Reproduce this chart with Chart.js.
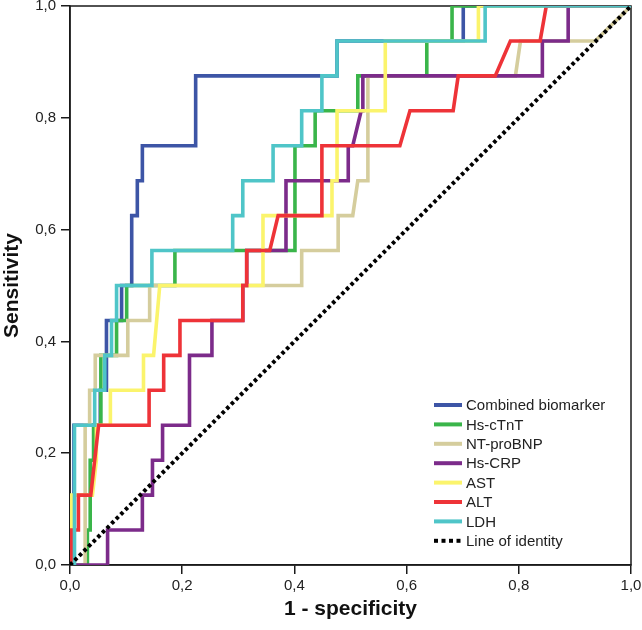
<!DOCTYPE html>
<html>
<head>
<meta charset="utf-8">
<script src="https://cdn.jsdelivr.net/npm/chart.js@4/dist/chart.umd.min.js"></script>
<style>
  html, body { margin: 0; padding: 0; background: #fff; }
</style>
</head>
<body>
<canvas id="roc" width="642" height="630"></canvas>
<script>
// ROC curves (1 - specificity vs sensitivity)
const combinedFpr = [0, 0.007, 0.007, 0.054, 0.054, 0.065, 0.065, 0.092, 0.092, 0.11, 0.11, 0.12, 0.12, 0.129, 0.129, 0.224, 0.224, 0.476, 0.476, 0.701, 0.701, 1];
const combinedTpr = [0, 0, 0.25, 0.25, 0.3125, 0.3125, 0.4375, 0.4375, 0.5, 0.5, 0.625, 0.625, 0.6875, 0.6875, 0.75, 0.75, 0.875, 0.875, 0.9375, 0.9375, 1, 1];

const tntFpr = [0, 0.031, 0.031, 0.036, 0.036, 0.042, 0.042, 0.055, 0.055, 0.083, 0.083, 0.101, 0.101, 0.187, 0.187, 0.401, 0.401, 0.437, 0.437, 0.513, 0.513, 0.636, 0.636, 0.681, 0.681, 1];
const tntTpr = [0, 0, 0.0625, 0.0625, 0.1875, 0.1875, 0.25, 0.25, 0.375, 0.375, 0.4375, 0.4375, 0.5, 0.5, 0.5625, 0.5625, 0.75, 0.75, 0.8125, 0.8125, 0.875, 0.875, 0.9375, 0.9375, 1, 1];

const bnpFpr = [0, 0.027, 0.027, 0.035, 0.035, 0.045, 0.045, 0.103, 0.103, 0.142, 0.142, 0.413, 0.413, 0.478, 0.478, 0.504, 0.513, 0.531, 0.531, 0.794, 0.803, 0.936, 1];
const bnpTpr = [0, 0, 0.25, 0.25, 0.3125, 0.3125, 0.375, 0.375, 0.4375, 0.4375, 0.5, 0.5, 0.5625, 0.5625, 0.625, 0.625, 0.6875, 0.6875, 0.875, 0.875, 0.9375, 0.9375, 1];

const crpFpr = [0, 0.067, 0.067, 0.129, 0.129, 0.147, 0.147, 0.165, 0.165, 0.213, 0.213, 0.253, 0.253, 0.308, 0.308, 0.315, 0.315, 0.385, 0.385, 0.496, 0.496, 0.504, 0.519, 0.522, 0.522, 0.842, 0.842, 0.888, 0.888, 1];
const crpTpr = [0, 0, 0.0625, 0.0625, 0.125, 0.125, 0.1875, 0.1875, 0.25, 0.25, 0.375, 0.375, 0.4375, 0.4375, 0.5, 0.5, 0.5625, 0.5625, 0.6875, 0.6875, 0.75, 0.75, 0.8125, 0.8125, 0.875, 0.875, 0.9375, 0.9375, 1, 1];

const astFpr = [0, 0.003, 0.003, 0.04, 0.047, 0.047, 0.072, 0.072, 0.131, 0.131, 0.149, 0.16, 0.344, 0.344, 0.467, 0.467, 0.476, 0.476, 0.562, 0.562, 0.728, 0.728, 1];
const astTpr = [0, 0, 0.125, 0.125, 0.1875, 0.25, 0.25, 0.3125, 0.3125, 0.375, 0.375, 0.5, 0.5, 0.625, 0.625, 0.6875, 0.6875, 0.8125, 0.8125, 0.9375, 0.9375, 1, 1];

const altFpr = [0, 0.003, 0.003, 0.015, 0.015, 0.037, 0.051, 0.141, 0.141, 0.167, 0.167, 0.196, 0.196, 0.308, 0.308, 0.315, 0.315, 0.356, 0.371, 0.449, 0.449, 0.588, 0.606, 0.683, 0.692, 0.758, 0.785, 0.838, 0.849, 1];
const altTpr = [0, 0, 0.0625, 0.0625, 0.125, 0.125, 0.25, 0.25, 0.3125, 0.3125, 0.375, 0.375, 0.4375, 0.4375, 0.5, 0.5, 0.5625, 0.5625, 0.625, 0.625, 0.75, 0.75, 0.8125, 0.8125, 0.875, 0.875, 0.9375, 0.9375, 1, 1];

const ldhFpr = [0, 0.008, 0.008, 0.044, 0.044, 0.062, 0.062, 0.074, 0.074, 0.083, 0.083, 0.146, 0.146, 0.29, 0.29, 0.308, 0.308, 0.362, 0.362, 0.413, 0.413, 0.449, 0.449, 0.476, 0.476, 0.74, 0.74, 1];
const ldhTpr = [0, 0, 0.25, 0.25, 0.3125, 0.3125, 0.375, 0.375, 0.4375, 0.4375, 0.5, 0.5, 0.5625, 0.5625, 0.625, 0.625, 0.6875, 0.6875, 0.75, 0.75, 0.8125, 0.8125, 0.875, 0.875, 0.9375, 0.9375, 1, 1];

const identityFpr = [0, 1];
const identityTpr = [0, 1];

const seriesNames = ['Combined biomarker', 'Hs-cTnT', 'NT-proBNP', 'Hs-CRP', 'AST', 'ALT', 'LDH', 'Line of identity'];
const axisTicks = [0, 0.2, 0.4, 0.6, 0.8, 1];

const FONT = '"Liberation Sans", Arial, Helvetica, sans-serif';
const fmt = (v) => v.toFixed(1).replace('.', ',');
const pts = (xs, ys) => xs.map((x, i) => ({x, y: ys[i]}));

const curves = [
  {fpr: combinedFpr, tpr: combinedTpr, color: '#3d55a6'},
  {fpr: tntFpr, tpr: tntTpr, color: '#3ab54a'},
  {fpr: bnpFpr, tpr: bnpTpr, color: '#d5cd9d'},
  {fpr: crpFpr, tpr: crpTpr, color: '#7c2b8a'},
  {fpr: astFpr, tpr: astTpr, color: '#fbf46c'},
  {fpr: altFpr, tpr: altTpr, color: '#ee3338'},
  {fpr: ldhFpr, tpr: ldhTpr, color: '#4fc5c8'},
];

// first dataset is drawn on top in chart.js, so order puts LDH above the rest
const datasets = curves.map((c, i) => ({
  label: seriesNames[i],
  data: pts(c.fpr, c.tpr),
  borderColor: c.color,
  borderWidth: 3.6,
  borderJoinStyle: 'miter',
  borderCapStyle: 'butt',
  pointRadius: 0,
  showLine: true,
  fill: false,
  order: curves.length - i,
}));
datasets.push({
  label: seriesNames[7],
  data: pts(identityFpr, identityTpr),
  borderColor: '#000',
  borderWidth: 4,
  borderDash: [3.5, 3],
  borderCapStyle: 'butt',
  pointRadius: 0,
  showLine: true,
  fill: false,
  order: 0,
});

// box round the plot (top + right edge too)
const frame = {
  id: 'frame',
  beforeDatasetsDraw(chart) {
    const {ctx, chartArea: a} = chart;
    ctx.save();
    ctx.strokeStyle = '#1a1a1a';
    ctx.lineWidth = 1.5;
    ctx.strokeRect(a.left, a.top, a.right - a.left, a.bottom - a.top);
    ctx.restore();
  },
};

// legend sits inside the plot, lower right
const insideLegend = {
  id: 'insideLegend',
  afterDraw(chart) {
    const {ctx, chartArea: a} = chart;
    const x0 = a.right - 197;
    const y0 = a.bottom - 160;
    ctx.save();
    ctx.font = '15px ' + FONT;
    ctx.textBaseline = 'middle';
    chart.data.datasets.forEach((ds, i) => {
      const y = y0 + i * 19.4;
      if (ds.borderDash) {
        ctx.fillStyle = '#000';
        for (let k = 0; k < 4; k++) ctx.fillRect(x0 + k * 7.5, y - 2, 4, 4);
      } else {
        ctx.strokeStyle = ds.borderColor;
        ctx.lineWidth = 4;
        ctx.beginPath();
        ctx.moveTo(x0, y);
        ctx.lineTo(x0 + 28, y);
        ctx.stroke();
      }
      ctx.fillStyle = '#222';
      ctx.fillText(ds.label, x0 + 32, y + 1);
    });
    ctx.restore();
  },
};

const axisCommon = {
  type: 'linear',
  min: 0,
  max: 1,
  afterBuildTicks: (scale) => { scale.ticks = axisTicks.map((v) => ({value: v})); },
  border: {display: true, color: '#1a1a1a', width: 1.5},
  grid: {display: true, drawOnChartArea: false, drawTicks: true, tickLength: 9, color: '#1a1a1a', lineWidth: 1.5},
};

new Chart(document.getElementById('roc'), {
  type: 'scatter',
  data: {datasets},
  options: {
    responsive: false,
    animation: false,
    layout: {padding: {left: 0, right: 11, top: 6, bottom: 0}},
    plugins: {legend: {display: false}, tooltip: {enabled: false}},
    scales: {
      x: {
        ...axisCommon,
        position: 'bottom',
        afterFit: (s) => { s.height = 65; s.paddingLeft = 0; s.paddingRight = 0; },
        ticks: {color: '#222', font: {family: FONT, size: 15}, padding: 3, maxRotation: 0, callback: fmt},
        title: {display: true, text: '1 - specificity', color: '#111', font: {family: FONT, size: 21, weight: 'bold'}, padding: {top: 0, bottom: 8}},
      },
      y: {
        ...axisCommon,
        position: 'left',
        afterFit: (s) => { s.width = 70; s.paddingTop = 0; s.paddingBottom = 0; },
        ticks: {color: '#222', font: {family: FONT, size: 15}, padding: 5, callback: fmt},
        title: {display: true, text: 'Sensitivity', color: '#111', font: {family: FONT, size: 21, weight: 'bold'}, padding: {top: 0, bottom: 0}},
      },
    },
  },
  plugins: [frame, insideLegend],
});
</script>
</body>
</html>
